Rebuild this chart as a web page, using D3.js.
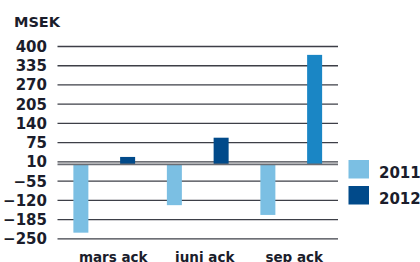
<!DOCTYPE html>
<html><head><meta charset="utf-8">
<script src="https://cdn.jsdelivr.net/npm/d3@7"></script>
<style>body{margin:0;background:#fff}svg{display:block}</style>
</head><body>
<svg id="c" width="420" height="262"></svg>
<script>
const categories = ["mars ack", "juni ack", "sep ack"];
const series = ["2011", "2012"];
const values2011 = [-231, -138, -171];
const values2012 = [25, 90, 370];
const yTicks = [400, 335, 270, 205, 140, 75, 10, -55, -120, -185, -250];
const unitLabel = "MSEK";

const colors = {"2011": "#7bbfe3", "2012": "#014a8a"};
const highlightColor = "#1a86c5";
const textColor = "#1b1d2b";
const font = "DejaVu Sans";

const svg = d3.select("#c");
const y = d3.scaleLinear().domain([-250, 400]).range([238.3, 46]);
const x0 = d3.scaleBand().domain(categories).range([57.5, 338]).paddingInner(0).paddingOuter(0);
const x1 = d3.scaleBand().domain(series).range([0, x0.bandwidth()]);
const barW = 15;

// gridlines
const grid = svg.append("g").attr("class","grid")
  .attr("transform","translate(0,0)")
  .call(d3.axisLeft(y).tickValues(yTicks).tickSize(-(338 - 57.5)).tickFormat(""))
  .attr("transform","translate(57.5,0)");
grid.select(".domain").remove();
grid.selectAll(".tick line").attr("stroke","#3d3f47").attr("stroke-width",1.3);

// y labels
const yAx = svg.append("g").attr("transform","translate(47,0)")
  .call(d3.axisLeft(y).tickValues(yTicks).tickSize(0).tickPadding(0));
yAx.select(".domain").remove();
yAx.selectAll("text").attr("font-family",font).attr("font-weight","bold")
  .attr("font-size","15px").attr("fill",textColor).attr("dy","0.36em");

svg.append("text").attr("x",14).attr("y",26.5).text(unitLabel)
  .attr("font-family",font).attr("font-weight","bold").attr("font-size","14.5px").attr("fill",textColor);

// bars
const rows = categories.map((c,i)=>({cat:c, i, vals:[{s:"2011",v:values2011[i]},{s:"2012",v:values2012[i]}]}));
const g = svg.append("g");
rows.forEach(r=>{
  r.vals.forEach(d=>{
    const cx = x0(r.cat) + x1(d.s) + x1.bandwidth()/2;
    let col = colors[d.s];
    if (d.s === "2012" && r.i === categories.length-1) col = highlightColor;
    g.append("rect").attr("x", cx - barW/2).attr("width", barW)
      .attr("y", y(Math.max(0,d.v))).attr("height", Math.abs(y(d.v)-y(0)))
      .attr("fill", col);
  });
});

// zero line
svg.append("line").attr("x1",57.5).attr("x2",338).attr("y1",y(0)).attr("y2",y(0))
  .attr("stroke","#6b6d73").attr("stroke-width",1.8);

// x axis labels
const xAx = svg.append("g").attr("transform","translate(0,261.5)")
  .call(d3.axisBottom(x0).tickSize(0).tickPadding(0));
xAx.select(".domain").remove();
const labelOffsets = [9, 7, 3];
xAx.selectAll("text").attr("font-family",font).attr("font-weight","bold")
  .attr("font-size","13.5px").attr("fill",textColor).attr("dy","0")
  .attr("dx",(d,i)=>labelOffsets[i]);

// legend
const leg = svg.append("g");
series.forEach((s,i)=>{
  const yy = 160 + i*26;
  leg.append("rect").attr("x",348.5).attr("y",yy).attr("width",20.5).attr("height",18.5).attr("fill",colors[s]);
  leg.append("text").attr("x",379).attr("y",yy+17.5).text(s)
    .attr("font-family",font).attr("font-weight","bold").attr("font-size","15px").attr("fill",textColor);
});
</script>
</body></html>
